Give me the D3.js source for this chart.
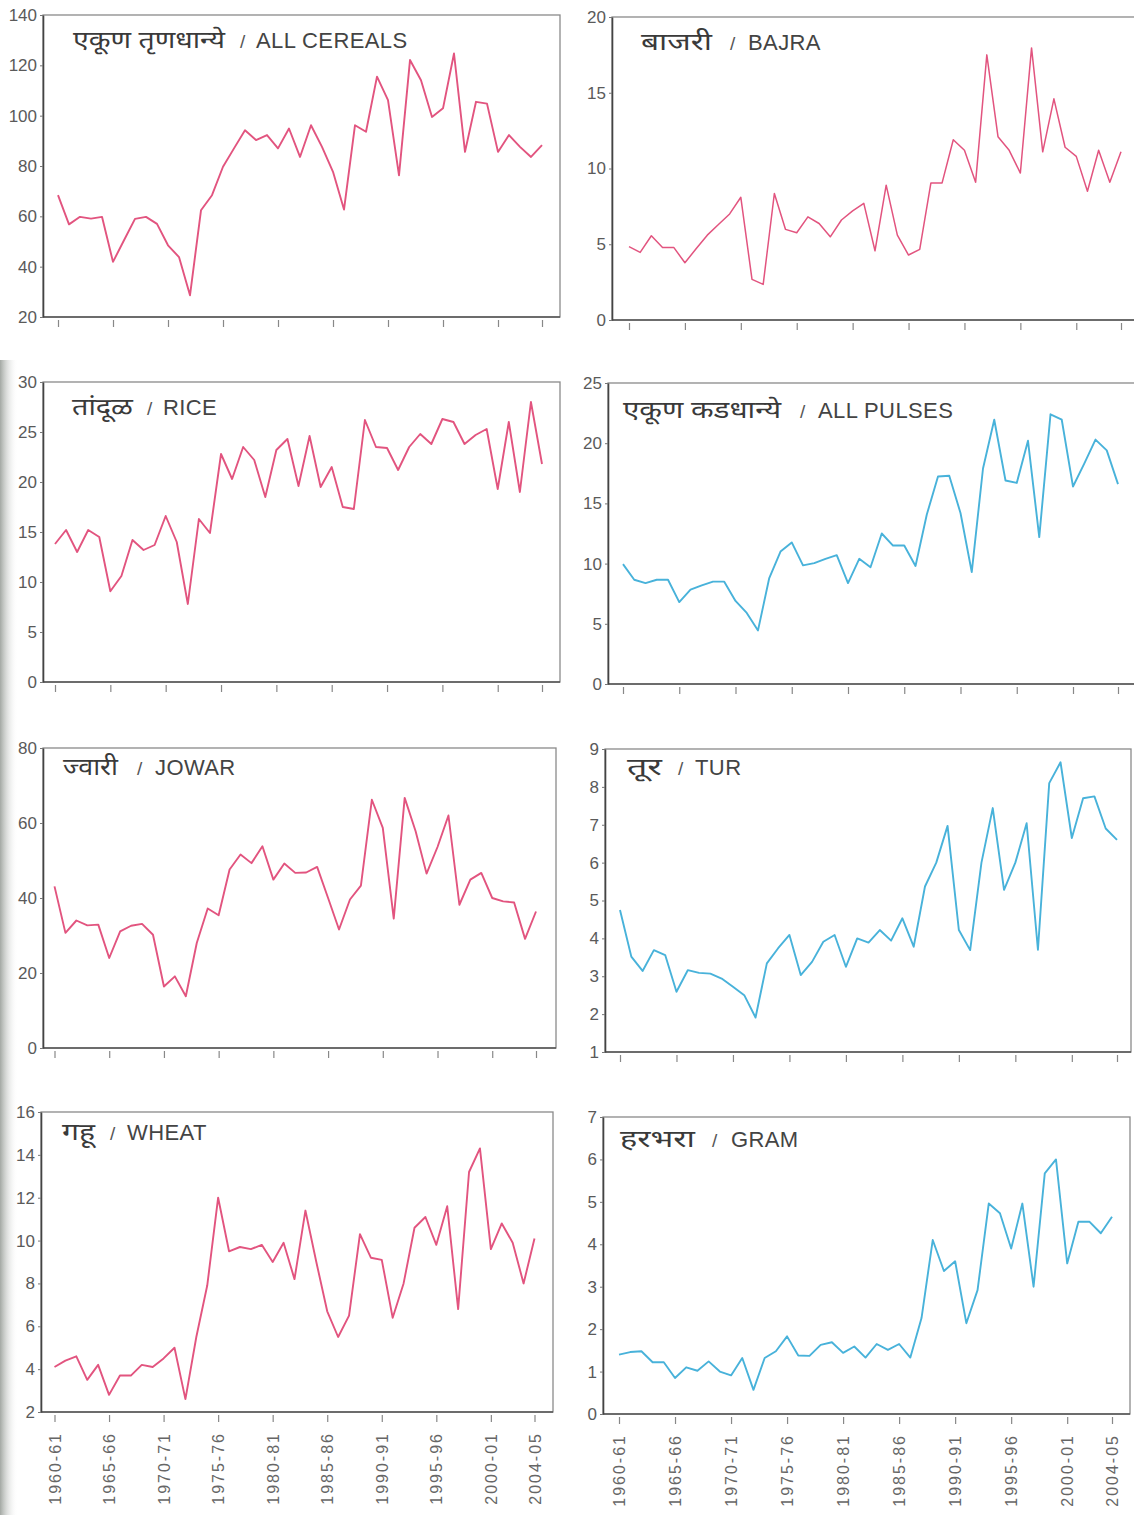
<!DOCTYPE html>
<html><head><meta charset="utf-8">
<script src="https://cdn.jsdelivr.net/npm/d3@7"></script>
<style>
html,body{margin:0;padding:0;background:#fff;}
svg{display:block;}
</style></head><body>
<svg id="chart" width="1134" height="1515"></svg>
<script>
// ---------- DATA ----------
const years = ["1960-61","1961-62","1962-63","1963-64","1964-65","1965-66","1966-67","1967-68","1968-69","1969-70",
"1970-71","1971-72","1972-73","1973-74","1974-75","1975-76","1976-77","1977-78","1978-79","1979-80",
"1980-81","1981-82","1982-83","1983-84","1984-85","1985-86","1986-87","1987-88","1988-89","1989-90",
"1990-91","1991-92","1992-93","1993-94","1994-95","1995-96","1996-97","1997-98","1998-99","1999-00",
"2000-01","2001-02","2002-03","2003-04","2004-05"];
const tickYears = ["1960-61","1965-66","1970-71","1975-76","1980-81","1985-86","1990-91","1995-96","2000-01","2004-05"];

const allCereals = [68.4,56.8,59.8,59.1,59.8,41.9,50.5,59.0,59.8,57.0,48.5,43.8,28.6,62.4,68.4,79.7,87.0,94.2,90.3,92.3,87.0,94.9,83.6,96.2,87.6,77.7,62.7,96.2,93.6,115.5,106.2,76.3,122.1,114.1,99.5,102.9,124.7,85.6,105.5,104.8,85.6,92.3,87.6,83.6,88.3];
const bajra = [4.84,4.46,5.56,4.79,4.79,3.78,4.7,5.6,6.3,7.0,8.1,2.68,2.35,8.35,5.98,5.76,6.81,6.37,5.49,6.6,7.2,7.7,4.57,8.9,5.6,4.29,4.66,9.05,9.05,11.9,11.2,9.1,17.5,12.1,11.2,9.7,17.96,11.1,14.6,11.4,10.8,8.5,11.2,9.1,11.1];
const rice = [13.8,15.2,13.0,15.2,14.5,9.07,10.6,14.2,13.2,13.7,16.6,14.0,7.8,16.3,14.9,22.8,20.3,23.5,22.2,18.5,23.2,24.3,19.6,24.6,19.5,21.5,17.5,17.3,26.2,23.5,23.4,21.2,23.5,24.8,23.8,26.3,26.0,23.8,24.7,25.3,19.3,26.0,19.0,28.0,21.8];
const allPulses = [9.96,8.66,8.38,8.66,8.66,6.8,7.83,8.19,8.5,8.5,6.9,5.9,4.45,8.8,11.0,11.76,9.85,10.04,10.4,10.7,8.38,10.4,9.7,12.5,11.5,11.5,9.8,14.06,17.24,17.3,14.2,9.3,17.9,21.95,16.9,16.7,20.2,12.2,22.4,21.95,16.4,18.3,20.3,19.4,16.6];
const jowar = [43.1,30.7,34.0,32.7,32.9,24.0,31.1,32.6,33.1,30.2,16.4,19.1,13.8,28.0,37.2,35.4,47.6,51.6,49.3,53.8,44.9,49.2,46.7,46.8,48.3,40.0,31.6,39.6,43.3,66.2,58.7,34.5,66.7,57.8,46.5,53.6,62.0,38.2,44.9,46.7,40.0,39.1,38.8,29.1,36.4];
const tur = [4.75,3.52,3.14,3.69,3.56,2.59,3.16,3.09,3.07,2.94,2.72,2.5,1.91,3.34,3.74,4.09,3.03,3.38,3.91,4.09,3.25,4.0,3.89,4.22,3.94,4.53,3.78,5.37,6.0,6.97,4.22,3.69,6.0,7.44,5.28,6.0,7.04,3.7,8.1,8.65,6.65,7.7,7.75,6.9,6.6];
const wheat = [4.1,4.4,4.6,3.5,4.2,2.8,3.7,3.7,4.2,4.1,4.5,5.0,2.6,5.5,7.9,12.0,9.5,9.7,9.6,9.8,9.0,9.9,8.2,11.4,9.0,6.7,5.5,6.5,10.3,9.2,9.1,6.4,8.0,10.6,11.1,9.8,11.6,6.8,13.2,14.3,9.6,10.8,9.9,8.0,10.1];
const gram = [1.40,1.46,1.48,1.22,1.22,0.85,1.1,1.02,1.24,1.0,0.91,1.32,0.57,1.32,1.48,1.83,1.38,1.37,1.63,1.69,1.44,1.59,1.33,1.65,1.51,1.65,1.33,2.26,4.1,3.37,3.6,2.14,2.92,4.96,4.73,3.9,4.96,3.0,5.67,6.0,3.55,4.53,4.53,4.26,4.65];

const cerealTicks = [20,40,60,80,100,120,140];
const bajraTicks = [0,5,10,15,20];
const riceTicks = [0,5,10,15,20,25,30];
const pulseTicks = [0,5,10,15,20,25];
const jowarTicks = [0,20,40,60,80];
const turTicks = [1,2,3,4,5,6,7,8,9];
const wheatTicks = [2,4,6,8,10,12,14,16];
const gramTicks = [0,1,2,3,4,5,6,7];

const titlesMr = ["एकूण तृणधान्ये","बाजरी","तांदूळ","एकूण कडधान्ये","ज्वारी","तूर","गहू","हरभरा"];
const titlesEn = ["ALL CEREALS","BAJRA","RICE","ALL PULSES","JOWAR","TUR","WHEAT","GRAM"];

// ---------- LAYOUT ----------
const PINK = "#e2547f", BLUE = "#48b2da";
const panels = [
 {data:allCereals, ticks:cerealTicks, color:PINK, ax:43, bx:560, top:15, bot:317, p0:58, p1:542, tx:[73,240,256], mw:152, ty:48, bottom:false},
 {data:bajra, ticks:bajraTicks, color:PINK, ax:612, bx:1140, top:17, bot:320, p0:629, p1:1121, tx:[641,730,748], mw:71, ty:50, bottom:false, sw:1.5},
 {data:rice, ticks:riceTicks, color:PINK, ax:43, bx:560, top:382, bot:682, p0:55, p1:542, tx:[72,147,163], mw:61, ty:415, bottom:false},
 {data:allPulses, ticks:pulseTicks, color:BLUE, ax:608, bx:1140, top:383, bot:684, p0:623, p1:1118, tx:[623,800,818], mw:158, ty:418, bottom:false},
 {data:jowar, ticks:jowarTicks, color:PINK, ax:43, bx:556, top:748, bot:1048, p0:54.5, p1:536, tx:[63,137,155], mw:55, ty:775, bottom:false},
 {data:tur, ticks:turTicks, color:BLUE, ax:605, bx:1131, top:749, bot:1052, p0:620, p1:1117, tx:[627,678,695], mw:35, ty:775, bottom:false},
 {data:wheat, ticks:wheatTicks, color:PINK, ax:41, bx:553, top:1112, bot:1412, p0:54.5, p1:534.5, tx:[62,110,127], mw:33, ty:1140, bottom:true},
 {data:gram, ticks:gramTicks, color:BLUE, ax:603, bx:1130, top:1117, bot:1414, p0:619, p1:1112, tx:[620,712,731], mw:75, ty:1147, bottom:true}
];

const svg = d3.select("#chart");
const defs = svg.append("defs");
const lg = defs.append("linearGradient").attr("id","edge").attr("x1",0).attr("x2",1).attr("y1",0).attr("y2",0);
lg.append("stop").attr("offset","0%").attr("stop-color","#a3a8a3").attr("stop-opacity",1);
lg.append("stop").attr("offset","100%").attr("stop-color","#ffffff").attr("stop-opacity",0);
svg.append("rect").attr("width",1134).attr("height",1515).attr("fill","#fff");
svg.append("rect").attr("x",0).attr("y",360).attr("width",18).attr("height",1155).attr("fill","url(#edge)");

const FONT = "'Liberation Sans', Arial, sans-serif";

panels.forEach((p, k) => {
  const g = svg.append("g");
  const x = d3.scalePoint().domain(years).range([p.p0, p.p1]);
  const y = d3.scaleLinear().domain(d3.extent(p.ticks)).range([p.bot, p.top]);

  // frame
  g.append("rect").attr("x", p.ax).attr("y", p.top).attr("width", p.bx - p.ax).attr("height", p.bot - p.top)
    .attr("fill","none").attr("stroke","#8a8a8a").attr("stroke-width",1.3);
  g.append("line").attr("x1", p.ax).attr("x2", p.bx).attr("y1", p.bot).attr("y2", p.bot)
    .attr("stroke","#555").attr("stroke-width",1.6);

  // y axis
  const ya = g.append("g").attr("transform",`translate(${p.ax},0)`)
    .call(d3.axisLeft(y).tickValues(p.ticks).tickFormat(d => String(d)).tickSize(3).tickSizeOuter(0).tickPadding(3));
  ya.select(".domain").attr("stroke","#444").attr("stroke-width",1.6);
  ya.selectAll(".tick line").attr("stroke","#777");
  ya.selectAll("text").attr("font-family",FONT).attr("font-size",17).attr("fill","#5a5a5a");

  // x axis
  const xa = g.append("g").attr("transform",`translate(0,${p.bot + 3})`)
    .call(d3.axisBottom(x).tickValues(tickYears).tickSize(7).tickFormat(p.bottom ? (d => d) : (() => "")));
  xa.select(".domain").remove();
  xa.selectAll(".tick line").attr("stroke","#888").attr("stroke-width",1.2);
  xa.selectAll("text").attr("font-family",FONT).attr("font-size",16).attr("fill","#666")
    .attr("letter-spacing","2px")
    .attr("transform","rotate(-90)").attr("text-anchor","end")
    .attr("x",-17).attr("y",0).attr("dy","0.35em");

  // line
  const line = d3.line().x((d,i) => x(years[i])).y(d => y(d));
  g.append("path").datum(p.data).attr("d", line).attr("fill","none")
    .attr("stroke", p.color).attr("stroke-width", p.sw || 1.9).attr("stroke-linejoin","round");

  // titles
  g.append("text").attr("x", p.tx[0]).attr("y", p.ty).text(titlesMr[k])
    .attr("font-family","'Noto Sans', sans-serif").attr("font-size",24).attr("fill","#3a3a3a")
    .attr("textLength", p.mw).attr("lengthAdjust","spacingAndGlyphs");
  g.append("text").attr("x", p.tx[1]).attr("y", p.ty).text("/")
    .attr("font-family",FONT).attr("font-size",19).attr("fill","#555");
  g.append("text").attr("x", p.tx[2]).attr("y", p.ty).text(titlesEn[k])
    .attr("font-family",FONT).attr("font-size",22).attr("fill","#444").attr("letter-spacing","0.4px");
});
</script>
</body></html>
